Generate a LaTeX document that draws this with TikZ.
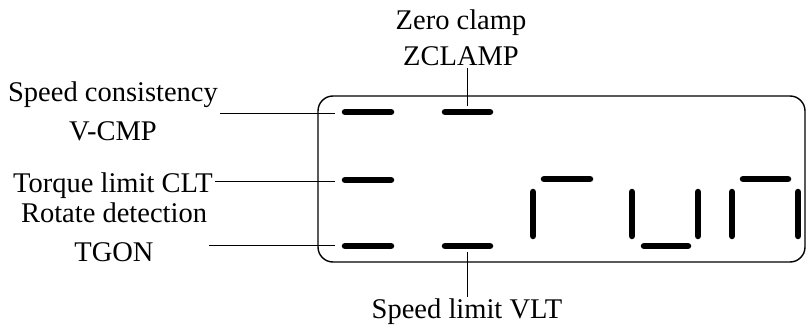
\documentclass[tikz,border=0pt]{standalone}
\usepackage{fontspec}
\setmainfont{Liberation Serif}
\usetikzlibrary{calc}

\begin{document}
\begin{tikzpicture}[
  x=1pt, y=-1pt,
  lbl/.style={font=\fontsize{28.5}{39}\selectfont, align=center, inner sep=2pt},
  seg/.style={line width=6.5pt, line cap=round},
  wire/.style={line width=1pt},
  panel/.style={draw, line width=1.4pt, rounded corners=15pt},
]
\useasboundingbox (0,0) rectangle (806,329);
%% Display panel
\draw[panel] (318,96) rectangle (805,262);
%% Status segments
\draw[seg] (345,112) -- (391,112);
\draw[seg] (345,180) -- (391,180);
\draw[seg] (345,246) -- (391,246);
\draw[seg] (445,112) -- (490,112);
\draw[seg] (445,246) -- (490,246);
%% r
\draw[seg] (544,179) -- (590,179);
\draw[seg] (533,192) -- (533,236);
%% u
\draw[seg] (632,192) -- (632,236);
\draw[seg] (698,192) -- (698,236);
\draw[seg] (644,246) -- (688,246);
%% n
\draw[seg] (743,179) -- (788,179);
\draw[seg] (732,192) -- (732,236);
\draw[seg] (798,192) -- (798,236);
%% Connector ends
\coordinate (vcmp) at (335,113);
\coordinate (clt) at (335,181);
\coordinate (tgon) at (335,245);
\coordinate (zcl) at (467,106);
\coordinate (vlt) at (467,252);
%% Labels
\node[lbl] (vcmplbl) at (113,111.8) {Speed consistency\\V-CMP};
\node[lbl, anchor=east] (cltlbl) at (215,185.4) {Torque limit CLT};
\node[lbl] (tgonlbl) at (114,231.8) {Rotate detection\\TGON};
\node[lbl, anchor=south] (zcllbl) at (461,68) {Zero clamp\\[-3pt]ZCLAMP};
\node[lbl, anchor=north] (vltlbl) at (467,297) {Speed limit VLT};
%% Connectors
\draw[wire] (vcmplbl.east |- vcmp) -- (vcmp);
\draw[wire] (cltlbl.east |- clt) -- (clt);
\draw[wire] (tgonlbl.east |- tgon) -- (tgon);
\draw[wire] (zcl) -- (zcl |- zcllbl.south);
\draw[wire] (vlt) -- (vlt |- vltlbl.north);
\end{tikzpicture}
\end{document}
